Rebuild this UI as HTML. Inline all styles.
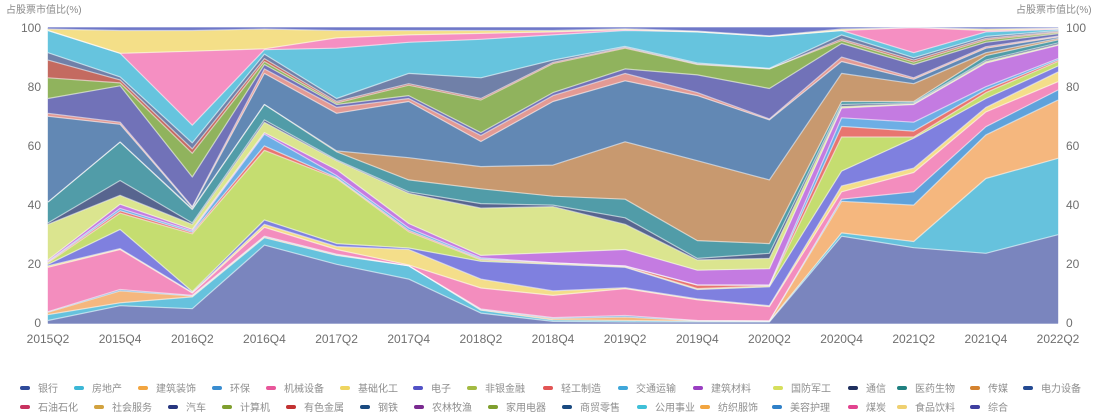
<!DOCTYPE html>
<html><head><meta charset="utf-8">
<style>
html,body{margin:0;padding:0;background:#fff;width:1108px;height:418px;overflow:hidden;}
svg{display:block;}
text{font-family:"Liberation Sans","Noto Sans CJK SC",sans-serif;}
.tk{font-size:12px;fill:#6f6f6f;}
.ttl{font-size:10px;fill:#8a8a8a;}
.lg{font-size:10px;fill:#8e8e8e;}
</style></head><body>
<svg id="c" width="1108" height="418" viewBox="0 0 1108 418" xmlns="http://www.w3.org/2000/svg">
<g id="areas"></g>
<g id="lines"></g>

<text class="ttl" x="6" y="13">占股票市值比(%)</text>
<text class="ttl" x="1016" y="13">占股票市值比(%)</text>

<g class="tk" text-anchor="end">
<text x="41" y="32">100</text>
<text x="41" y="91">80</text>
<text x="41" y="150">60</text>
<text x="41" y="209">40</text>
<text x="41" y="268">20</text>
<text x="41" y="327">0</text>
</g>
<g class="tk" text-anchor="start">
<text x="1066" y="32">100</text>
<text x="1066" y="91">80</text>
<text x="1066" y="150">60</text>
<text x="1066" y="209">40</text>
<text x="1066" y="268">20</text>
<text x="1066" y="327">0</text>
</g>

<g class="tk" text-anchor="middle">
<text x="48" y="343">2015Q2</text>
<text x="120.1" y="343">2015Q4</text>
<text x="192.3" y="343">2016Q2</text>
<text x="264.4" y="343">2016Q4</text>
<text x="336.6" y="343">2017Q2</text>
<text x="408.7" y="343">2017Q4</text>
<text x="480.9" y="343">2018Q2</text>
<text x="553" y="343">2018Q4</text>
<text x="625.1" y="343">2019Q2</text>
<text x="697.3" y="343">2019Q4</text>
<text x="769.4" y="343">2020Q2</text>
<text x="841.6" y="343">2020Q4</text>
<text x="913.7" y="343">2021Q2</text>
<text x="985.9" y="343">2021Q4</text>
<text x="1058" y="343">2022Q2</text>
</g>

<!-- legend row 1 -->
<g>
<rect x="20" y="386" width="10" height="4" rx="2" fill="#2e4a9a"/><text class="lg" x="38" y="392">银行</text>
<rect x="74" y="386" width="10" height="4" rx="2" fill="#3cb7d6"/><text class="lg" x="92" y="392">房地产</text>
<rect x="138" y="386" width="10" height="4" rx="2" fill="#f2a540"/><text class="lg" x="156" y="392">建筑装饰</text>
<rect x="212" y="386" width="10" height="4" rx="2" fill="#3a8dd0"/><text class="lg" x="230" y="392">环保</text>
<rect x="266" y="386" width="10" height="4" rx="2" fill="#e8569a"/><text class="lg" x="284" y="392">机械设备</text>
<rect x="340" y="386" width="10" height="4" rx="2" fill="#efd560"/><text class="lg" x="358" y="392">基础化工</text>
<rect x="413" y="386" width="10" height="4" rx="2" fill="#5252c6"/><text class="lg" x="431" y="392">电子</text>
<rect x="467" y="386" width="10" height="4" rx="2" fill="#a3ba42"/><text class="lg" x="485" y="392">非银金融</text>
<rect x="543" y="386" width="10" height="4" rx="2" fill="#e25555"/><text class="lg" x="561" y="392">轻工制造</text>
<rect x="618" y="386" width="10" height="4" rx="2" fill="#3fa7da"/><text class="lg" x="636" y="392">交通运输</text>
<rect x="693" y="386" width="10" height="4" rx="2" fill="#9a3fc2"/><text class="lg" x="711" y="392">建筑材料</text>
<rect x="773" y="386" width="10" height="4" rx="2" fill="#d6df5c"/><text class="lg" x="791" y="392">国防军工</text>
<rect x="848" y="386" width="10" height="4" rx="2" fill="#1f2f5e"/><text class="lg" x="866" y="392">通信</text>
<rect x="897" y="386" width="10" height="4" rx="2" fill="#1f8080"/><text class="lg" x="915" y="392">医药生物</text>
<rect x="970" y="386" width="10" height="4" rx="2" fill="#d4822f"/><text class="lg" x="988" y="392">传媒</text>
<rect x="1023" y="386" width="10" height="4" rx="2" fill="#244a92"/><text class="lg" x="1041" y="392">电力设备</text>
</g>
<!-- legend row 2 -->
<g>
<rect x="20" y="405" width="10" height="4" rx="2" fill="#c8325f"/><text class="lg" x="38" y="411">石油石化</text>
<rect x="94" y="405" width="10" height="4" rx="2" fill="#d2a23f"/><text class="lg" x="112" y="411">社会服务</text>
<rect x="168" y="405" width="10" height="4" rx="2" fill="#27367f"/><text class="lg" x="186" y="411">汽车</text>
<rect x="222" y="405" width="10" height="4" rx="2" fill="#7f9f2e"/><text class="lg" x="240" y="411">计算机</text>
<rect x="286" y="405" width="10" height="4" rx="2" fill="#c23232"/><text class="lg" x="304" y="411">有色金属</text>
<rect x="360" y="405" width="10" height="4" rx="2" fill="#1a4a80"/><text class="lg" x="378" y="411">钢铁</text>
<rect x="414" y="405" width="10" height="4" rx="2" fill="#7a2a90"/><text class="lg" x="432" y="411">农林牧渔</text>
<rect x="488" y="405" width="10" height="4" rx="2" fill="#7f9f2e"/><text class="lg" x="506" y="411">家用电器</text>
<rect x="562" y="405" width="10" height="4" rx="2" fill="#1a4a80"/><text class="lg" x="580" y="411">商贸零售</text>
<rect x="637" y="405" width="10" height="4" rx="2" fill="#3fc0d8"/><text class="lg" x="655" y="411">公用事业</text>
<rect x="700" y="405" width="10" height="4" rx="2" fill="#f2a540"/><text class="lg" x="718" y="411">纺织服饰</text>
<rect x="772" y="405" width="10" height="4" rx="2" fill="#2f80c8"/><text class="lg" x="790" y="411">美容护理</text>
<rect x="848" y="405" width="10" height="4" rx="2" fill="#e2438f"/><text class="lg" x="866" y="411">煤炭</text>
<rect x="897" y="405" width="10" height="4" rx="2" fill="#efd070"/><text class="lg" x="915" y="411">食品饮料</text>
<rect x="970" y="405" width="10" height="4" rx="2" fill="#3f3fa0"/><text class="lg" x="988" y="411">综合</text>
</g>
</svg>
<script>
(function(){
var X0=48, X1=1058, N=15, DX=(X1-X0)/(N-1), Y0=323.5, K=2.96;
var bands=[
["#7a85be",[1,6,5,26.5,20,15,3.5,0.7,0.5,0.5,0.5,29.5,25.6,23.7,30]],
["#66c2dd",[2,1,4,2.5,3,4.5,1,0.5,0.5,0.3,0.2,1.1,2.1,25.3,25.8]],
["#f5b77e",[0.8,4,0.3,0.3,0.2,0,0.2,0.5,1.2,0.1,0.1,10.7,12.3,14.7,19.7]],
["#5fa2db",[0.2,0.5,0.2,0.2,0.2,0,0.2,0.3,0.5,0.1,0.1,0.7,4.5,2.8,3.4]],
["#f38dbe",[15,13.5,0.8,3,1.6,0.3,7.1,7.5,9.1,7,4.8,2.5,6.5,5,2.8]],
["#f4de8a",[0.5,0.3,0.2,1,1,5.2,3,1.5,0.3,0.3,0.3,2,1.5,1.5,3.3]],
["#7f80df",[0.5,6.5,0.3,1.5,1,0.5,6,9,6.9,3.2,6.4,5,10.1,3,2]],
["#c5dd70",[0.5,5.5,19.5,23.5,22,5.5,0.5,0.3,0.2,0.3,0.3,11.5,0.4,2,1.5]],
["#e87570",[0.3,0.8,0.5,1.5,0.3,0.5,0.3,0.2,0.2,1.2,0.2,3.6,2,1,0.5]],
["#6daee5",[0.2,0.8,0.5,4,0.7,0.8,0.4,0,0.1,0,0.1,2.9,3,1,0.5]],
["#c47be1",[0.5,1.4,0.5,0.5,2,1.5,0.8,3.5,5.5,5,5.5,3.3,6,8,4.5]],
["#dbe58f",[12,3,1.7,3.5,3,10.2,16,15.5,8.5,3.5,3.5,0.5,0.3,0.5,0.3]],
["#57658f",[0.5,5,0.5,0.8,0.3,0.5,1.5,0.5,2.2,0.5,1.7,0.7,0.3,0.5,0.5]],
["#519ca8",[7,13,4.5,5.2,2.7,4,5,3,6.3,6,3.3,1,0.4,1.5,1]],
["#c8996f",[0,0,0.2,0,0.3,7.5,7.5,10.5,19.4,27,21.5,9.5,6,1,0.5]],
["#6288b4",[29,6,0.5,10.5,12.7,19,8.5,21.5,20.6,22,20.3,4,1.5,1.5,0.5]],
["#e39a94",[1,0.7,0.3,1.5,2,1,2,2,2.5,1,0.3,1.5,0.5,0.5,0.3]],
["#7172b8",[5,12.3,10,1.5,1,1,1,1,1.5,6,10.3,4.6,4.5,1.5,0.8]],
["#90b35d",[7,1,8,1,0.5,3.5,11,9.8,7,3.5,6.6,1,0.8,0.8,0.4]],
["#c46a60",[6,1,1.5,1,0.5,0.5,0.5,0.4,0.3,0.2,0,0.5,0.7,0.5,0.3]],
["#7080a8",[2.5,1,2,1.5,1,3.5,7,0.8,0.3,0.3,0.2,1.4,0.8,0.7,0.4]],
["#66c4de",[7.5,8,6,1.5,17,10.5,13,8.5,5.4,10.5,10.8,1.5,1.7,1.5,0.4]],
["#f58fc2",[0,0,25,0.3,3.5,2.5,2,1,0.3,0,0,0,8.5,0.5,0.2]],
["#f4df88",[0.5,7.7,7,6.7,2.5,1.5,1,0.5,0.3,0.3,0.2,0.5,0,0.5,0.2]],
["#6f78c8",[0.5,1,1,0.5,1,1,1,1,0.4,1.2,2.8,0.5,0,0.5,0.2]]
];
var tot=[],i,b;
for(i=0;i<N;i++){var s=0;for(b=0;b<bands.length;b++)s+=bands[b][1][i];tot.push(s);}
var prev=[];for(i=0;i<N;i++)prev.push(0);
var ns="http://www.w3.org/2000/svg";
var ga=document.getElementById("areas"), gl=document.getElementById("lines");
function X(i){return X0+DX*i;}
function Y(v){return Y0-K*v;}
for(b=0;b<bands.length;b++){
  var top=[];
  for(i=0;i<N;i++)top.push(prev[i]+bands[b][1][i]*100/tot[i]);
  var pts=[];
  for(i=0;i<N;i++)pts.push(X(i).toFixed(1)+","+Y(top[i]).toFixed(1));
  var lpts=pts.slice();
  for(i=N-1;i>=0;i--)pts.push(X(i).toFixed(1)+","+Y(prev[i]).toFixed(1));
  var p=document.createElementNS(ns,"polygon");
  p.setAttribute("points",pts.join(" "));
  p.setAttribute("fill",bands[b][0]);
  p.setAttribute("stroke",bands[b][0]);
  p.setAttribute("stroke-width","0.4");
  ga.appendChild(p);
  if(b<bands.length-1){
    var l=document.createElementNS(ns,"polyline");
    l.setAttribute("points",lpts.join(" "));
    l.setAttribute("fill","none");
    l.setAttribute("stroke","rgba(255,255,255,0.55)");
    l.setAttribute("stroke-width","1.2");
    l.setAttribute("stroke-linejoin","round");
    gl.appendChild(l);
  }
  prev=top;
}
})();
</script>
</body></html>
